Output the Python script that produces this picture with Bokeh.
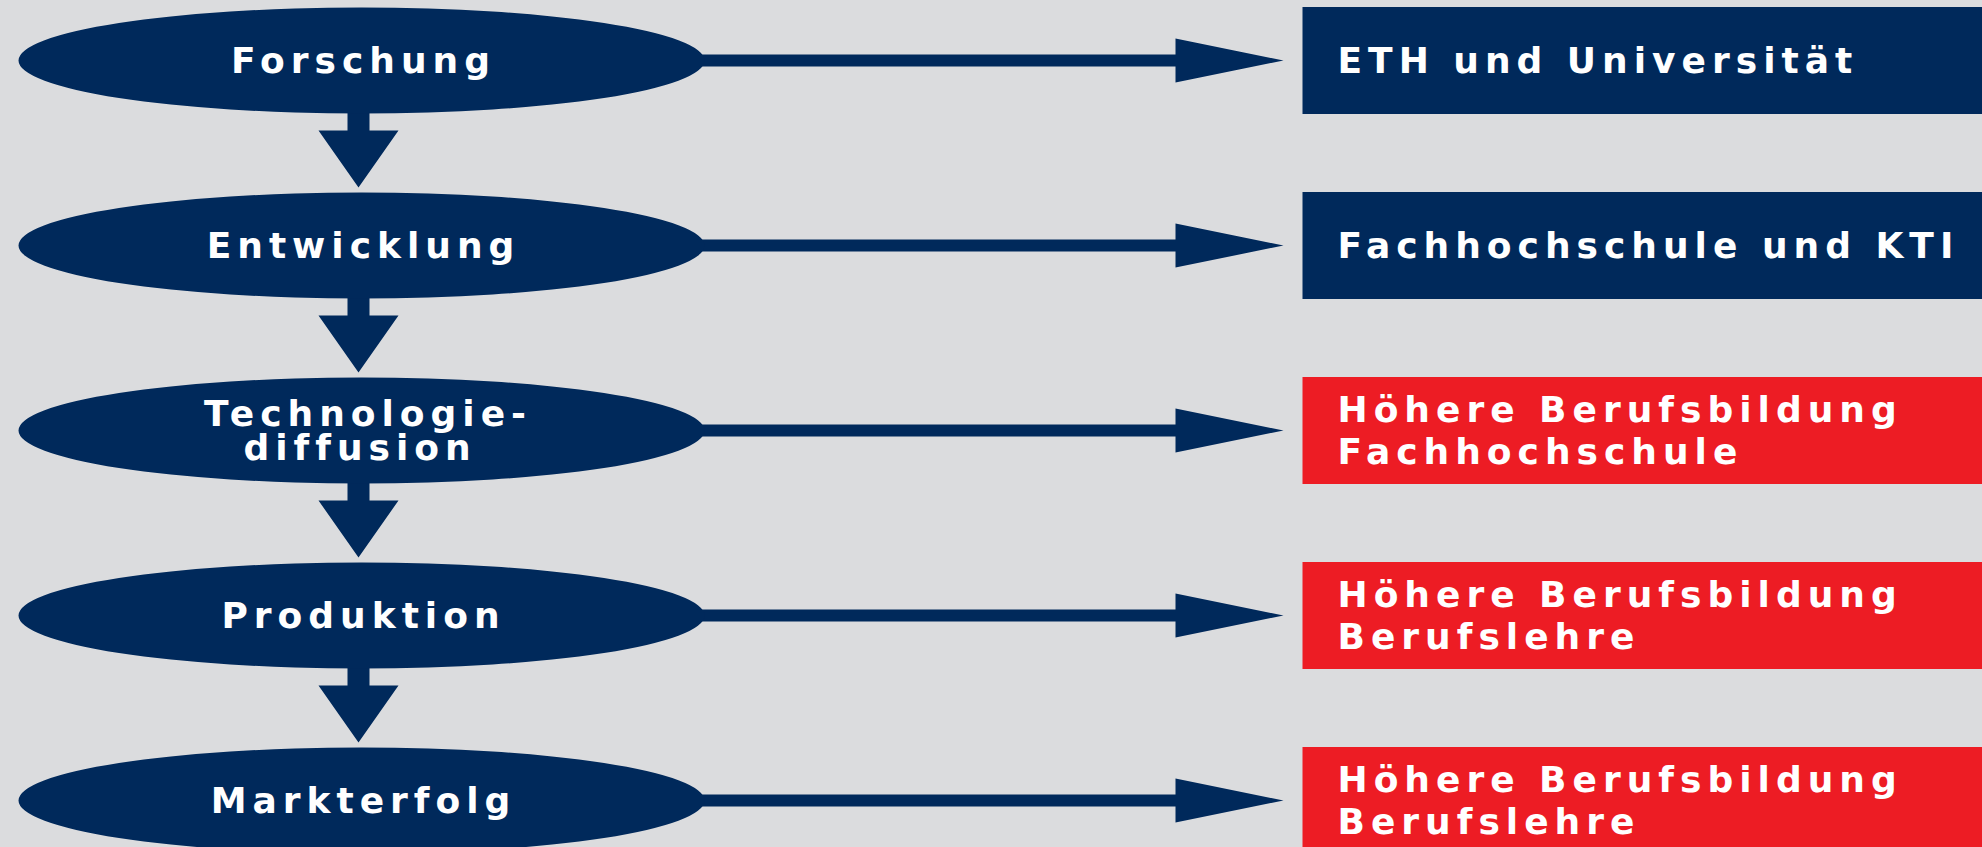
from bokeh.plotting import figure
from bokeh.models import Range1d
from bokeh.embed import file_html
from bokeh.resources import INLINE
from bokeh.core.properties import value

# ---- data ----
stages = ["Forschung", "Entwicklung", "Technologie-\ndiffusion", "Produktion", "Markterfolg"]
institutions = [
    "ETH und Universität",
    "Fachhochschule und KTI",
    "Höhere Berufsbildung\nFachhochschule",
    "Höhere Berufsbildung\nBerufslehre",
    "Höhere Berufsbildung\nBerufslehre",
]
institution_kind = ["akademisch", "akademisch", "beruflich", "beruflich", "beruflich"]

# ---- style / layout ----
NAVY = "#00295b"
RED = "#ed1c24"
BG = "#dbdcde"
KIND_COLOR = {"akademisch": NAVY, "beruflich": RED}
FONT = "DejaVu Sans"
LS = 6  # letter spacing (px) applied through page CSS

W, H = 1982, 847
ROW0, STEP = 60, 185
ECX, EW, EH = 361, 686, 106
BOX_L, BOX_R, BOX_H = 1302, 2010, 107

n = len(stages)
cy = [ROW0 + i * STEP for i in range(n)]

p = figure(width=W, height=H, x_range=Range1d(0, W), y_range=Range1d(H, 0),
           output_backend="svg", toolbar_location=None, min_border=0,
           x_axis_location=None, y_axis_location=None)
p.grid.visible = False
p.outline_line_color = None
p.background_fill_color = BG
p.border_fill_color = BG

# down arrows between stages
dxs, dys = [], []
ax = 358
for i in range(n - 1):
    y0 = cy[i] + 45
    y1 = cy[i] + 70
    tip = cy[i] + 127
    dxs.append([ax - 11, ax + 11, ax + 11, ax + 40, ax, ax - 40, ax - 11])
    dys.append([y0, y0, y1, y1, tip, y1, y1])
p.patches(dxs, dys, fill_color=NAVY, line_color=None)

# horizontal arrows to institutions
hxs, hys = [], []
for c in cy:
    hxs.append([680, 1175, 1175, 1283, 1175, 1175, 680])
    hys.append([c - 6, c - 6, c - 22, c, c + 22, c + 6, c + 6])
p.patches(hxs, hys, fill_color=NAVY, line_color=None)

# stage ellipses
p.ellipse(x=[ECX] * n, y=cy, width=EW, height=EH, fill_color=NAVY, line_color=None)

# institution boxes
p.quad(left=[BOX_L] * n, right=[BOX_R] * n,
       top=[c - BOX_H / 2 for c in cy], bottom=[c + BOX_H / 2 for c in cy],
       fill_color=[KIND_COLOR[k] for k in institution_kind], line_color=None)

# texts (centre correction for the extra letter spacing)
stage_x = []
for s in stages:
    lines = s.split("\n")
    stage_x.append(ECX - LS * (sum(len(l) for l in lines) / len(lines)) / 2 + 2)
p.text(x=stage_x, y=cy, text=stages, text_color="white", text_font=value(FONT),
       text_font_style="bold", text_font_size="36px", text_align="center",
       text_baseline="middle", text_line_height=0.85)
p.text(x=[1337] * n, y=cy, text=institutions, text_color="white",
       text_font=value(FONT), text_font_style="bold", text_font_size="36px",
       text_align="left", text_baseline="middle", text_line_height=1.04)

html = file_html(p, INLINE)
html = html.replace("</head>", "<style>html,body{background:%s;letter-spacing:%dpx;}</style></head>" % (BG, LS), 1)
open("out.html", "w").write(html)
